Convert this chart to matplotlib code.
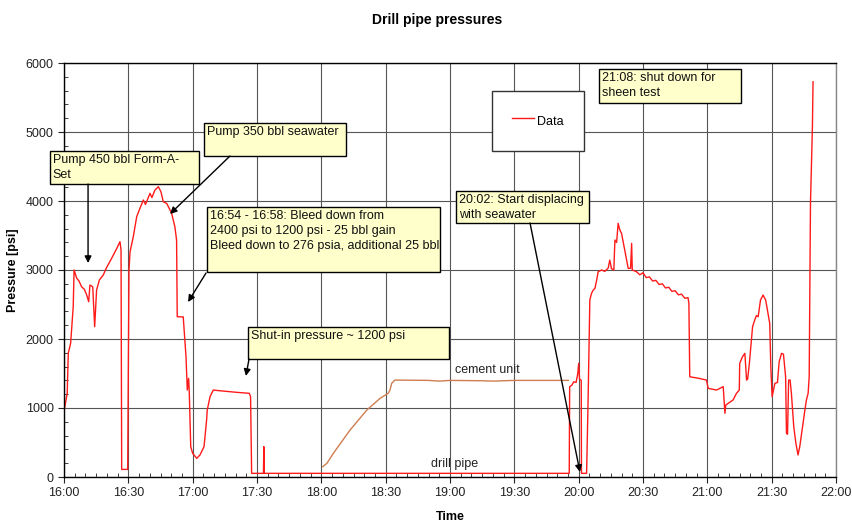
"""
Drill pipe pressures, 16:00 - 22:00
"""

import matplotlib
matplotlib.use("Agg")
import matplotlib.pyplot as plt
from matplotlib.patches import Rectangle
from matplotlib.ticker import MultipleLocator, FuncFormatter

plt.rcParams['font.family'] = ['Liberation Sans', 'DejaVu Sans']

# minutes after 16:00, pressure in psi
DRILL_T = [0.0, 1.5, 2.0, 3.1, 4.3, 4.7, 5.9, 7.0, 8.2, 9.5, 10.6, 11.5, 12.1, 13.4, 14.3,
           15.2, 16.5, 18.3, 19.9, 22.2, 24.6, 26.1, 26.6, 26.9, 29.7, 30.3, 30.8, 32.3,
           33.9, 35.4, 37.0, 38.0, 40.1, 41.0, 42.4, 44.0, 45.2, 46.3, 47.9, 50.2, 51.7,
           52.5, 52.8, 55.6, 56.9, 57.5, 58.1, 58.4, 59.1, 60.0, 61.9, 63.4, 65.3, 66.5,
           66.8, 68.1, 69.6, 72.7, 80.5, 86.4, 87.0, 87.5, 93.0, 93.2, 93.4, 235.6, 235.8,
           236.8, 237.7, 238.8, 239.6, 240.0, 240.4, 241.2, 241.3, 243.7, 244.4, 245.2,
           246.0, 246.8, 247.6, 248.4, 249.1, 250.7, 252.2, 253.8, 254.5, 255.3, 256.4,
           256.9, 257.7, 258.4, 259.2, 260.0, 261.5, 263.1, 264.2, 264.7, 265.0, 267.0,
           268.5, 270.0, 271.5, 273.0, 274.5, 276.0, 277.5, 279.0, 280.5, 282.0, 283.5,
           285.0, 286.5, 288.0, 289.5, 291.0, 291.4, 291.8, 296.0, 299.6, 300.4, 304.3,
           307.4, 308.2, 308.6, 312.0, 313.6, 314.9, 315.1, 316.4, 317.5, 318.3, 318.8,
           319.6, 321.1, 322.1, 322.9, 323.7, 324.8, 326.0, 327.2, 328.3, 329.1, 329.6,
           330.2, 331.5, 332.7, 333.5, 334.6, 335.5, 336.5, 336.9, 337.4, 337.9, 338.6,
           339.2, 340.3, 341.3, 342.3, 343.1, 344.4, 345.5, 346.2, 347.0, 347.5, 348.1,
           349.0, 349.3]
DRILL_P = [950, 1213, 1795, 1940, 2468, 3000, 2883, 2840, 2757, 2720, 2637, 2540, 2782, 2757, 2178,
           2710, 2855, 2927, 3038, 3168, 3313, 3410, 3290, 110, 110, 3000, 3265, 3482,
           3772, 3893, 4014, 3950, 4111, 4050, 4159, 4207, 4134, 3989, 3965, 3821, 3627,
           3434, 2323, 2320, 1743, 1260, 1430, 1250, 440, 343, 270, 319, 440, 826,
           970, 1164, 1260, 1250, 1227, 1213, 1164, 53, 53, 440, 53, 53, 1309,
           1330, 1380, 1370, 1502, 1647, 1420, 1400, 53, 53, 1116, 2565,
           2662, 2710, 2734, 2855, 2975, 3000, 2980, 3030, 3144, 3020, 3000,
           3434, 3400, 3676, 3580, 3531, 3289, 3024, 3024, 3386, 3000, 2975,
           2930, 2960, 2890, 2900, 2840, 2850, 2790, 2800, 2740, 2750, 2690,
           2700, 2640, 2650, 2590, 2600, 2517, 1453, 1430, 1405, 1285, 1260,
           1309, 923, 1043, 1116, 1213, 1260, 1647, 1743, 1792, 1405, 1420,
           1647, 2178, 2275, 2340, 2323, 2565, 2637, 2565, 2372, 2227, 1600,
           1164, 1357, 1370, 1671, 1792, 1780, 1453, 633, 620, 1405, 1405,
           1213, 729, 488, 319, 440, 729, 970, 1116, 1213, 1453, 3965,
           5076, 5728]

CEMENT_T = [120.7, 122.6, 125.6, 133.4, 141.2, 147.4, 151.2, 152.0, 152.8, 154.3,
            170.0, 175.0, 180.0, 195.0, 200.0, 210.0, 235.2]
CEMENT_P = [150, 198, 343, 681, 970, 1140, 1213, 1260, 1357, 1405,
            1400, 1390, 1400, 1395, 1390, 1400, 1400]

BOX_FILL = '#ffffcc'
FS = 9


def hours(mins):
    return [16 + m / 60.0 for m in mins]


def clock(x, pos):
    h = int(x)
    m = int(round((x - h) * 60))
    return "%d:%02d" % (h, m)


fig = plt.figure(figsize=(8.53, 5.23), dpi=100)
ax = fig.add_axes([64 / 853, 46 / 523, 772 / 853, 414 / 523])

ax.plot(hours(CEMENT_T), CEMENT_P, color='#cf7d4e', lw=1.0)
ax.plot(hours(DRILL_T), DRILL_P, color='#ff1a1a', lw=1.0, label='Data')

ax.set_xlim(16, 22)
ax.set_ylim(0, 6000)
ax.xaxis.set_major_locator(MultipleLocator(0.5))
ax.xaxis.set_minor_locator(MultipleLocator(5 / 60))
ax.yaxis.set_major_locator(MultipleLocator(1000))
ax.yaxis.set_minor_locator(MultipleLocator(200))
ax.xaxis.set_major_formatter(FuncFormatter(clock))
ax.tick_params(which='major', direction='out', length=4, labelsize=FS, colors='#222222')
ax.tick_params(which='minor', direction='in', length=3, color='#222222')
ax.grid(True, which='major', color='#555555', lw=0.8)
ax.set_axisbelow(True)
for s in ax.spines.values():
    s.set_color('black')
    s.set_linewidth(1.0)
ax.spines['right'].set_color('#888888')

ax.set_xlabel("Time", fontsize=FS, fontweight='bold', labelpad=8)
ax.set_ylabel("Pressure [psi]", fontsize=FS, fontweight='bold', labelpad=5)
fig.text(437 / 853, 1 - 20 / 523, "Drill pipe pressures", fontsize=10, fontweight='bold',
         ha='center', va='center')

leg = ax.legend(loc='upper left', bbox_to_anchor=(0.554, 0.932), fontsize=FS,
                fancybox=False, framealpha=1, edgecolor='#333333', borderpad=1.6,
                borderaxespad=0, handlelength=1.75, handleheight=2.1, handletextpad=0.3)
leg.get_frame().set_linewidth(1.0)

# callout boxes: (left, right, top, bottom) in hours / psi, text
boxes = [
    ((15.891, 17.049, 4725, 4246), "Pump 450 bbl Form-A-\nSet"),
    ((17.088, 18.192, 5130, 4652), "Pump 350 bbl seawater"),
    ((17.111, 18.922, 3913, 2971),
     "16:54 - 16:58: Bleed down from\n2400 psi to 1200 psi - 25 bbl gain\n"
     "Bleed down to 276 psia, additional 25 bbl"),
    ((17.430, 18.992, 2174, 1710), "Shut-in pressure ~ 1200 psi"),
    ((19.047, 20.080, 4145, 3681), "20:02: Start displacing\nwith seawater"),
    ((20.158, 21.262, 5913, 5420), "21:08: shut down for\nsheen test"),
]
for (x0, x1, top, bot), txt in boxes:
    ax.add_patch(Rectangle((x0, bot), x1 - x0, top - bot, facecolor=BOX_FILL,
                           edgecolor='black', lw=1.0, zorder=5, clip_on=False))
    ax.text(x0 + 0.02, top - 45, txt, fontsize=FS, ha='left', va='top',
            linespacing=1.33, zorder=6, clip_on=False, color='#111111')

arrows = [
    ((16.187, 4246), (16.187, 3101)),
    ((17.290, 4652), (16.824, 3812)),
    ((17.104, 2957), (16.964, 2536)),
    ((17.438, 1710), (17.414, 1464)),
    ((19.622, 3681), (20.010, 72)),
]
for start, tip in arrows:
    ax.annotate('', xy=tip, xytext=start, zorder=7,
                arrowprops=dict(arrowstyle='-|>', color='black', lw=1.0,
                                mutation_scale=10, shrinkA=0, shrinkB=0))

ax.text(19.039, 1551, "cement unit", fontsize=FS, ha='left', va='center', color='#222222')
ax.text(18.852, 188, "drill pipe", fontsize=FS, ha='left', va='center', color='#222222')

fig.savefig("out.png", dpi=100)
